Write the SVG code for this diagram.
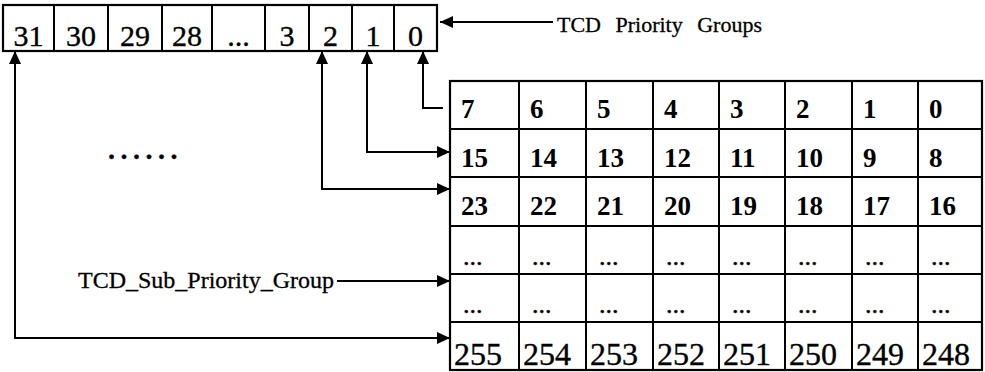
<svg xmlns="http://www.w3.org/2000/svg" width="985" height="372" viewBox="0 0 985 372">
  <style>
    .num { font-family: "Liberation Serif", "Times New Roman", serif; fill: #000; }
    .top { font-size: 30px; text-anchor: middle; stroke: #000; stroke-width: 0.35; }
    .cell { font-size: 27px; font-weight: bold; }
    .dots { font-size: 26px; stroke: #000; stroke-width: 0.4; }
    .big { font-size: 32px; stroke: #000; stroke-width: 0.35; }
    .lbl { font-family: "Liberation Serif", "Times New Roman", serif; fill: #000; stroke: #000; stroke-width: 0.3; }
    .box { fill: #fff; stroke: #000; stroke-width: 2.2; }
    .rule { stroke: #000; stroke-width: 2; }
    .wire { fill: none; stroke: #000; stroke-width: 2; }
  </style>
  <defs>
    <marker id="ah" markerUnits="userSpaceOnUse" markerWidth="14" markerHeight="12" refX="13" refY="6" orient="auto-start-reverse">
      <path d="M0,0 L13,6 L0,12 z" fill="#000"/>
    </marker>
  </defs>
  <rect width="985" height="372" fill="#fff"/>

  <!-- 32-bit priority group register -->
  <g id="priority-groups">
    <rect class="box" x="3" y="5" width="434" height="46"/>
    <g class="rule">
      <line x1="54" y1="5" x2="54" y2="51"/>
      <line x1="108" y1="5" x2="108" y2="51"/>
      <line x1="162" y1="5" x2="162" y2="51"/>
      <line x1="212" y1="5" x2="212" y2="51"/>
      <line x1="265" y1="5" x2="265" y2="51"/>
      <line x1="309" y1="5" x2="309" y2="51"/>
      <line x1="352" y1="5" x2="352" y2="51"/>
      <line x1="394" y1="5" x2="394" y2="51"/>
    </g>
    <g class="num top">
      <text x="28.5" y="46">31</text>
      <text x="81" y="46">30</text>
      <text x="135" y="46">29</text>
      <text x="187" y="46">28</text>
      <text x="238.5" y="46">...</text>
      <text x="287" y="46">3</text>
      <text x="330.5" y="46">2</text>
      <text x="373" y="46">1</text>
      <text x="415.5" y="46">0</text>
    </g>
  </g>

  <!-- 256-entry sub priority table -->
  <g id="sub-priority-table">
    <rect class="box" x="450" y="81" width="532" height="289"/>
    <g class="rule">
      <line x1="450" y1="129" x2="982" y2="129"/>
      <line x1="450" y1="177" x2="982" y2="177"/>
      <line x1="450" y1="226" x2="982" y2="226"/>
      <line x1="450" y1="274" x2="982" y2="274"/>
      <line x1="450" y1="322" x2="982" y2="322"/>
      <line x1="519" y1="81" x2="519" y2="370"/>
      <line x1="586" y1="81" x2="586" y2="370"/>
      <line x1="653" y1="81" x2="653" y2="370"/>
      <line x1="719" y1="81" x2="719" y2="370"/>
      <line x1="785" y1="81" x2="785" y2="370"/>
      <line x1="852" y1="81" x2="852" y2="370"/>
      <line x1="918" y1="81" x2="918" y2="370"/>
    </g>
    <g class="num cell">
      <text x="461" y="118">7</text>
      <text x="530" y="118">6</text>
      <text x="597" y="118">5</text>
      <text x="664" y="118">4</text>
      <text x="730" y="118">3</text>
      <text x="796" y="118">2</text>
      <text x="863" y="118">1</text>
      <text x="929" y="118">0</text>

      <text x="461" y="167">15</text>
      <text x="530" y="167">14</text>
      <text x="597" y="167">13</text>
      <text x="664" y="167">12</text>
      <text x="730" y="167">11</text>
      <text x="796" y="167">10</text>
      <text x="863" y="167">9</text>
      <text x="929" y="167">8</text>

      <text x="461" y="215">23</text>
      <text x="530" y="215">22</text>
      <text x="597" y="215">21</text>
      <text x="664" y="215">20</text>
      <text x="730" y="215">19</text>
      <text x="796" y="215">18</text>
      <text x="863" y="215">17</text>
      <text x="929" y="215">16</text>
    </g>
    <g class="num dots">
      <text x="463" y="265">...</text>
      <text x="532" y="265">...</text>
      <text x="599" y="265">...</text>
      <text x="666" y="265">...</text>
      <text x="732" y="265">...</text>
      <text x="798" y="265">...</text>
      <text x="865" y="265">...</text>
      <text x="931" y="265">...</text>

      <text x="463" y="313">...</text>
      <text x="532" y="313">...</text>
      <text x="599" y="313">...</text>
      <text x="666" y="313">...</text>
      <text x="732" y="313">...</text>
      <text x="798" y="313">...</text>
      <text x="865" y="313">...</text>
      <text x="931" y="313">...</text>
    </g>
    <g class="num big">
      <text x="454" y="365">255</text>
      <text x="523" y="365">254</text>
      <text x="590" y="365">253</text>
      <text x="657" y="365">252</text>
      <text x="723" y="365">251</text>
      <text x="789" y="365">250</text>
      <text x="856" y="365">249</text>
      <text x="922" y="365">248</text>
    </g>
  </g>

  <!-- labels -->
  <g id="label-groups">
    <text class="lbl" x="557" y="32" font-size="22" word-spacing="9">TCD Priority Groups</text>
  </g>
  <g id="label-sub-group">
    <text class="lbl" x="78" y="288" font-size="24">TCD_Sub_Priority_Group</text>
  </g>
  <g id="ellipsis">
    <text class="lbl" x="108" y="159" font-size="28" font-weight="bold" letter-spacing="5.5">......</text>
  </g>

  <!-- connectors -->
  <g id="connectors">
    <path class="wire" d="M553,22 H440" marker-end="url(#ah)"/>
    <path class="wire" d="M443,108 H423 V51" marker-end="url(#ah)"/>
    <path class="wire" d="M367,51 V152 H450" marker-start="url(#ah)" marker-end="url(#ah)"/>
    <path class="wire" d="M322,51 V189 H450" marker-start="url(#ah)" marker-end="url(#ah)"/>
    <path class="wire" d="M15,51 V338 H450" marker-start="url(#ah)" marker-end="url(#ah)"/>
    <path class="wire" d="M337,281 H450" marker-end="url(#ah)"/>
  </g>
</svg>
